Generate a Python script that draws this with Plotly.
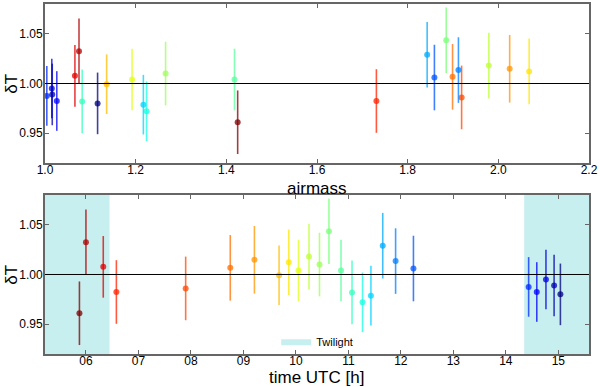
import numpy as np
import plotly.graph_objects as go
from plotly.subplots import make_subplots

# one entry per exposure, in time order
time_utc = [5.876, 6.00, 6.33, 6.58, 7.90, 8.75, 9.21, 9.68, 9.865, 10.05, 10.25, 10.45, 10.63,
            10.86, 11.07, 11.27, 11.43, 11.655, 11.90, 12.24, 14.435, 14.59, 14.765, 14.92, 15.04]
airmass = [1.425, 1.075, 1.066, 1.731, 1.919, 1.899, 2.025, 1.136, 2.068, 1.192, 1.979, 1.266, 1.885,
           1.418, 1.082, 1.224, 1.217, 1.843, 1.912, 1.859, 1.004, 1.026, 1.015, 1.016, 1.116]
delta_t = [0.961, 1.0325, 1.0077, 0.9824, 0.986, 1.0067, 1.0148, 0.9993, 1.0122, 1.004, 1.018, 1.010, 1.0436,
           1.004, 0.982, 0.972, 0.9787, 1.029, 1.0135, 1.006, 0.9875, 0.9824, 0.995, 0.989, 0.980]
delta_t_err = [0.032, 0.033, 0.031, 0.032, 0.032, 0.033, 0.034, 0.030, 0.033, 0.031, 0.033, 0.032, 0.033,
               0.031, 0.032, 0.030, 0.030, 0.033, 0.033, 0.033, 0.030, 0.030, 0.030, 0.031, 0.031]

twilight = [(5.22, 6.45), (14.35, 15.585)]
y_range = [0.92, 1.08]
hour_ticks = [6, 7, 8, 9, 10, 11, 12, 13, 14, 15]
hour_labels = ["06", "07", "08", "09", "10", "11", "12", "13", "14", "15"]


def jet(v):
    """matplotlib 'jet' colormap."""
    r = np.interp(v, [0, 0.35, 0.66, 0.89, 1], [0, 0, 1, 1, 0.5])
    g = np.interp(v, [0, 0.125, 0.375, 0.64, 0.91, 1], [0, 0, 1, 1, 0, 0])
    b = np.interp(v, [0, 0.11, 0.34, 0.65, 1], [0.5, 1, 1, 0, 0])
    return f"rgba({int(r * 255)},{int(g * 255)},{int(b * 255)},0.75)"


n = len(time_utc)
colors = [jet(1 - i / (n - 1)) for i in range(n)]

fig = make_subplots(rows=2, cols=1, vertical_spacing=0.09)

# twilight bands as filled polygons (so the legend shows a flat patch)
tw_x, tw_y = [], []
for x0, x1 in twilight:
    tw_x += [x0, x1, x1, x0, x0, None]
    tw_y += [y_range[0], y_range[0], y_range[1], y_range[1], y_range[0], None]
fig.add_trace(go.Scatter(x=tw_x, y=tw_y, mode="lines", fill="toself", fillcolor="#c8eff0",
                         line=dict(width=0, color="#c8eff0"), name="Twilight", hoverinfo="skip"),
              row=2, col=1)

for i in range(n):
    for row, xs in ((1, airmass), (2, time_utc)):
        fig.add_trace(
            go.Scatter(
                x=[xs[i]], y=[delta_t[i]], mode="markers",
                marker=dict(size=6, color=colors[i]),
                error_y=dict(type="data", array=[delta_t_err[i]], color=colors[i], thickness=1.6, width=0),
                showlegend=False, hoverinfo="skip",
            ),
            row=row, col=1,
        )

for row in (1, 2):
    fig.add_hline(y=1.0, line=dict(color="black", width=1), row=row, col=1)

axis_style = dict(showline=True, linecolor="#666666", linewidth=2, mirror="ticks", ticks="inside",
                  ticklen=4, tickcolor="#666666", showgrid=False, zeroline=False, automargin=False,
                  tickfont=dict(size=12, color="black"))

fig.update_xaxes(axis_style, ticklabelstandoff=-5)
fig.update_yaxes(axis_style, range=y_range, tickvals=[0.95, 1.0, 1.05], ticktext=["0.95", "1.00", "1.05"],
                 ticklabelstandoff=-2)
fig.update_xaxes(range=[1.0, 2.2], tickvals=[1.0, 1.2, 1.4, 1.6, 1.8, 2.0, 2.2], tickformat=".1f", row=1, col=1)
fig.update_xaxes(range=[5.22, 15.585], tickvals=hour_ticks, ticktext=hour_labels, row=2, col=1)

title_font = dict(size=17, color="black")
for text, x, y, angle in (("airmass", 0.4996, 0.44, 0), ("time UTC [h]", 0.4996, -0.1, 0),
                          ("δT", -0.062, 0.7729, -90), ("δT", -0.062, 0.2271, -90)):
    fig.add_annotation(text=text, x=x, y=y, xref="paper", yref="paper", showarrow=False,
                       xanchor="center", yanchor="bottom" if angle == 0 else "middle",
                       textangle=angle, font=title_font)

fig.update_layout(
    width=600, height=387,
    margin=dict(l=45, r=11, t=4, b=33),
    plot_bgcolor="white", paper_bgcolor="white",
    font=dict(family="Liberation Sans, Arial, sans-serif", color="black"),
    yaxis=dict(domain=[0.5457, 1.0]),
    yaxis2=dict(domain=[0.0, 0.4543]),
    legend=dict(x=0.425, y=-0.005, xanchor="left", yanchor="bottom", bgcolor="rgba(0,0,0,0)",
                font=dict(size=11), itemwidth=30),
)

fig.write_html("out.html", config={"displayModeBar": False},
               post_script="document.body.style.margin = '0';")
